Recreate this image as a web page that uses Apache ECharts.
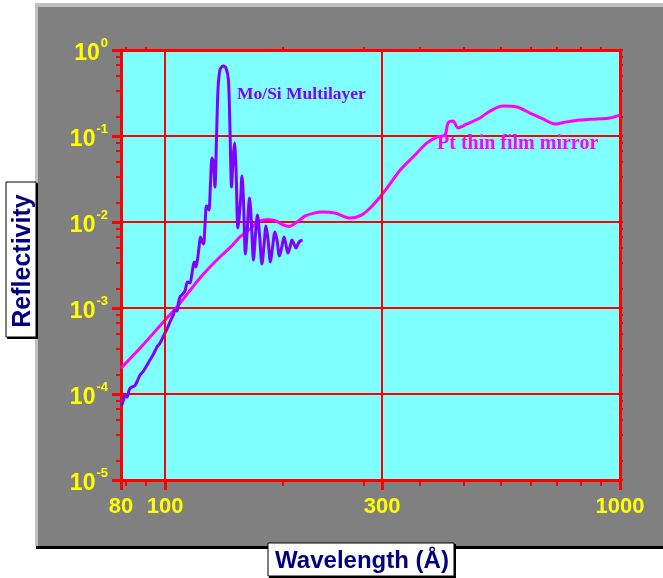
<!DOCTYPE html>
<html><head><meta charset="utf-8">
<script src="https://cdn.jsdelivr.net/npm/echarts@6/dist/echarts.min.js"></script>
<style>html,body{margin:0;padding:0;background:#fff}#c{width:663px;height:578px}</style>
</head><body><div id="c"></div>
<script>
// ---- data ----
const moSiWavelength = [80.2, 81.0, 81.6, 82.5, 83.5, 84.6, 85.7, 86.7, 88.1, 89.6,
  91.3, 92.6, 94.3, 96.0, 97.5, 99.2, 101.0, 102.5, 104.4, 105.1,
  106.2, 107.0, 107.8, 108.9, 110.6, 112.0, 113.4, 114.6, 115.5, 116.1,
  116.9, 117.8, 118.7, 119.6, 120.5, 121.5, 122.4, 123.3, 124.3, 124.9,
  125.8, 126.8, 127.8, 128.7, 129.7, 130.7, 132.0, 134.1, 136.1, 137.8,
  138.9, 140.0, 141.0, 142.1, 143.2, 144.6, 146.5, 147.6, 148.7, 150.2,
  151.8, 153.3, 154.9, 156.4, 158.0, 159.6, 161.3, 163.3, 165.0, 166.7,
  168.4, 170.5, 172.2, 174.4, 176.2, 178.4, 180.7, 182.6, 184.4, 186.3,
  188.2, 190.1, 192.0, 194.0, 196.0, 198.0, 200.5];
const moSiReflectivity = [7.25e-5, 8.5e-5, 9.7e-5, 9.2e-5, 1.14e-4, 1.21e-4, 1.24e-4, 1.38e-4, 1.66e-4, 1.85e-4,
  2.17e-4, 2.48e-4, 2.92e-4, 3.52e-4, 3.92e-4, 4.72e-4, 5.7e-4, 6.87e-4, 8.5e-4, 9.5e-4,
  9.2e-4, 1.14e-3, 1.34e-3, 1.42e-3, 1.58e-3, 2.01e-3, 1.95e-3, 2.55e-3, 3.25e-3, 3.43e-3,
  3.0e-3, 3.61e-3, 4.99e-3, 6.7e-3, 6.0e-3, 5.55e-3, 9.2e-3, 1.53e-2, 1.46e-2, 1.38e-2,
  2.69e-2, 5.55e-2, 4.85e-2, 2.55e-2, 8.98e-2, 0.343, 0.585, 0.652, 0.618, 0.448,
  0.117, 2.55e-2, 5.26e-2, 8.29e-2, 4.02e-2, 8.5e-3, 1.8e-2, 3.43e-2, 1.8e-2, 4.25e-3,
  9.2e-3, 1.9e-2, 9.2e-3, 3.61e-3, 7.06e-3, 1.21e-2, 7.06e-3, 3.25e-3, 5.4e-3, 8.98e-3,
  6.18e-3, 3.43e-3, 4.99e-3, 7.65e-3, 6.18e-3, 4.03e-3, 5.26e-3, 6.7e-3, 5.4e-3, 4.36e-3,
  5.12e-3, 6.18e-3, 5.55e-3, 4.99e-3, 5.55e-3, 6.01e-3, 6.18e-3];

const ptWavelength = [80, 89.4, 100, 105.7, 112.3, 119.3, 125.5, 132.0, 138.9, 146.1,
  153.7, 161.7, 168.4, 175.3, 181.6, 187.2, 195.0, 203.0, 211.4, 221.3,
  236.3, 255.0, 270.9, 285.0, 296.8, 312.2, 328.4, 350.8, 376.6, 396,
  412.4, 418.8, 429.6, 440.5, 461, 492.4, 517.9, 553, 593.6, 634.2,
  677.1, 719.7, 764.7, 816.8, 890, 950.6, 1000];
const ptReflectivity = [2.0e-4, 3.72e-4, 7.25e-4, 1.0e-3, 1.49e-3, 2.23e-3, 3.0e-3, 3.92e-3, 5.03e-3, 6.7e-3,
  8.29e-3, 1.03e-2, 1.07e-2, 1.03e-2, 9.23e-3, 8.87e-3, 1.0e-2, 1.17e-2, 1.26e-2, 1.31e-2,
  1.27e-2, 1.11e-2, 1.21e-2, 1.53e-2, 1.95e-2, 2.77e-2, 4.0e-2, 5.7e-2, 8.3e-2, 9.7e-2,
  0.103, 0.142, 0.149, 0.124, 0.138, 0.162, 0.195, 0.223, 0.217, 0.185,
  0.158, 0.138, 0.146, 0.153, 0.158, 0.162, 0.175];

const xTickLabels = [80, 100, 300, 1000];
const xMinorTicks = [81.8, 90.9, 181.8, 272.7, 363.6, 454.5, 545.5, 636.4, 727.3, 818.2, 909.1];
const xGridLines = [100, 300];
const yTickLabels = [1e-5, 1e-4, 1e-3, 1e-2, 1e-1, 1];
const yMinorTicks = [1.667e-5, 3.333e-5, 5e-5, 6.667e-5, 8.333e-5,
  1.667e-4, 3.333e-4, 5e-4, 6.667e-4, 8.333e-4,
  1.667e-3, 3.333e-3, 5e-3, 6.667e-3, 8.333e-3,
  1.667e-2, 3.333e-2, 5e-2, 6.667e-2, 8.333e-2,
  0.1667, 0.3333, 0.5, 0.6667, 0.8333];

const xTitle = 'Wavelength (Å)';
const yTitle = 'Reflectivity';
const moSiName = 'Mo/Si Multilayer';
const ptName = 'Pt thin film mirror';

// ---- build ----
const RED = '#ff0000';
const YEL = '#ffff00';
const SANS = '"Liberation Sans", Arial, sans-serif';
const SERIF = '"Liberation Serif", "Times New Roman", serif';
const zip = (a, b) => a.map((v, i) => [v, b[i]]);

const baseX = {type: 'log', logBase: 10, min: 80, max: 1000, gridIndex: 0,
  splitLine: {show: false}, minorTick: {show: false}, minorSplitLine: {show: false}};
const baseY = {type: 'log', logBase: 10, min: 1e-5, max: 1, gridIndex: 0,
  minorTick: {show: false}, minorSplitLine: {show: false}};

const chart = echarts.init(document.getElementById('c'), null, {renderer: 'canvas'});
chart.setOption({
  animation: false,
  backgroundColor: '#ffffff',
  grid: {left: 121, top: 50, width: 499, height: 430, show: true, backgroundColor: '#80ffff', borderWidth: 0},
  xAxis: [
    Object.assign({}, baseX, {position: 'bottom',
      axisLine: {show: true, onZero: false, lineStyle: {color: RED, width: 3}},
      axisTick: {show: true, inside: false, length: 10, customValues: xTickLabels, lineStyle: {color: RED, width: 3}},
      axisLabel: {show: true, customValues: xTickLabels, margin: 16, color: YEL, fontFamily: SANS, fontWeight: 'bold', fontSize: 22,
        formatter: v => String(Math.round(v))}}),
    Object.assign({}, baseX, {position: 'bottom',
      axisLine: {show: false, onZero: false},
      axisTick: {show: true, inside: false, length: 6, customValues: xMinorTicks, lineStyle: {color: RED, width: 2}},
      axisLabel: {show: false}}),
    Object.assign({}, baseX, {position: 'top',
      axisLine: {show: true, onZero: false, lineStyle: {color: RED, width: 3}},
      axisTick: {show: true, inside: false, length: 3, customValues: xMinorTicks, lineStyle: {color: RED, width: 2}},
      axisLabel: {show: false}})
  ],
  yAxis: [
    Object.assign({}, baseY, {position: 'left',
      axisLine: {show: true, onZero: false, lineStyle: {color: RED, width: 3}},
      axisTick: {show: true, inside: false, length: 9, customValues: yTickLabels, lineStyle: {color: RED, width: 3}},
      axisLabel: {show: true, customValues: yTickLabels, margin: 13, padding: [7, 0, 0, 0],
        formatter: v => '{b|10}{s|' + Math.round(Math.log10(v)) + '}',
        rich: {
          b: {fontFamily: SANS, fontWeight: 'bold', fontSize: 23, lineHeight: 23, color: YEL, verticalAlign: 'bottom'},
          s: {fontFamily: SANS, fontWeight: 'bold', fontSize: 13, lineHeight: 13, color: YEL, verticalAlign: 'bottom', padding: [0, 0, 15, 1]}
        }},
      splitLine: {show: true, lineStyle: {color: RED, width: 2}}}),
    Object.assign({}, baseY, {position: 'left',
      axisLine: {show: false, onZero: false},
      axisTick: {show: true, inside: false, length: 5, customValues: yMinorTicks, lineStyle: {color: RED, width: 2}},
      axisLabel: {show: false}, splitLine: {show: false}}),
    Object.assign({}, baseY, {position: 'right',
      axisLine: {show: true, onZero: false, lineStyle: {color: RED, width: 3}},
      axisTick: {show: true, inside: false, length: 3, customValues: yMinorTicks.concat(yTickLabels), lineStyle: {color: RED, width: 2}},
      axisLabel: {show: false}, splitLine: {show: false}})
  ],
  series: [
    {type: 'line', name: 'grid', xAxisIndex: 0, yAxisIndex: 0, data: [], z: 1, silent: true,
      markLine: {silent: true, symbol: ['none', 'none'], label: {show: false}, animation: false,
        lineStyle: {color: RED, width: 2, type: 'solid'},
        data: xGridLines.map(v => ({xAxis: v}))}},
    {type: 'line', name: ptName, xAxisIndex: 0, yAxisIndex: 0, data: zip(ptWavelength, ptReflectivity),
      showSymbol: false, smooth: 0.3, z: 3, lineStyle: {color: '#ff00ff', width: 3}},
    {type: 'line', name: moSiName, xAxisIndex: 0, yAxisIndex: 0, data: zip(moSiWavelength, moSiReflectivity),
      showSymbol: false, smooth: 0.3, z: 4, lineStyle: {color: '#8000ff', width: 3}}
  ],
  graphic: [
    {type: 'rect', z: -10, silent: true, shape: {x: 35, y: 3, width: 640, height: 543}, style: {fill: '#c0c0c0'}},
    {type: 'rect', z: -9, silent: true, shape: {x: 38, y: 7, width: 640, height: 539}, style: {fill: '#808080'}},
    {type: 'rect', z: -9, silent: true, shape: {x: 36, y: 546, width: 640, height: 3}, style: {fill: '#000000'}},
    // y title box
    {type: 'rect', z: 100, silent: true, shape: {x: 7, y: 183, width: 31, height: 156}, style: {fill: '#000000'}},
    {type: 'rect', z: 101, silent: true, shape: {x: 6, y: 182, width: 30, height: 155}, style: {fill: '#ffffff', stroke: '#000000', lineWidth: 1}},
    {type: 'text', z: 102, silent: true, x: 23, y: 261, rotation: Math.PI / 2,
      style: {text: yTitle, fill: '#000080', font: 'bold 25px ' + SANS, align: 'center', verticalAlign: 'middle', textAlign: 'center', textVerticalAlign: 'middle'}},
    // x title box
    {type: 'rect', z: 100, silent: true, shape: {x: 269, y: 544, width: 187, height: 34}, style: {fill: '#000000'}},
    {type: 'rect', z: 101, silent: true, shape: {x: 268, y: 543, width: 186, height: 33}, style: {fill: '#ffffff', stroke: '#000000', lineWidth: 1}},
    {type: 'text', z: 102, silent: true, x: 362, y: 561,
      style: {text: xTitle, fill: '#000080', font: 'bold 24px ' + SANS, align: 'center', verticalAlign: 'middle', textAlign: 'center', textVerticalAlign: 'middle'}},
    // curve annotations
    {type: 'text', z: 102, silent: true, x: 237, y: 94,
      style: {text: moSiName, fill: '#8000ff', font: 'bold 17.5px ' + SERIF, align: 'left', verticalAlign: 'middle', textAlign: 'left', textVerticalAlign: 'middle'}},
    {type: 'text', z: 102, silent: true, x: 437, y: 144,
      style: {text: ptName, fill: '#ff00ff', font: 'bold 20px ' + SERIF, align: 'left', verticalAlign: 'middle', textAlign: 'left', textVerticalAlign: 'middle'}}
  ]
});
</script></body></html>
